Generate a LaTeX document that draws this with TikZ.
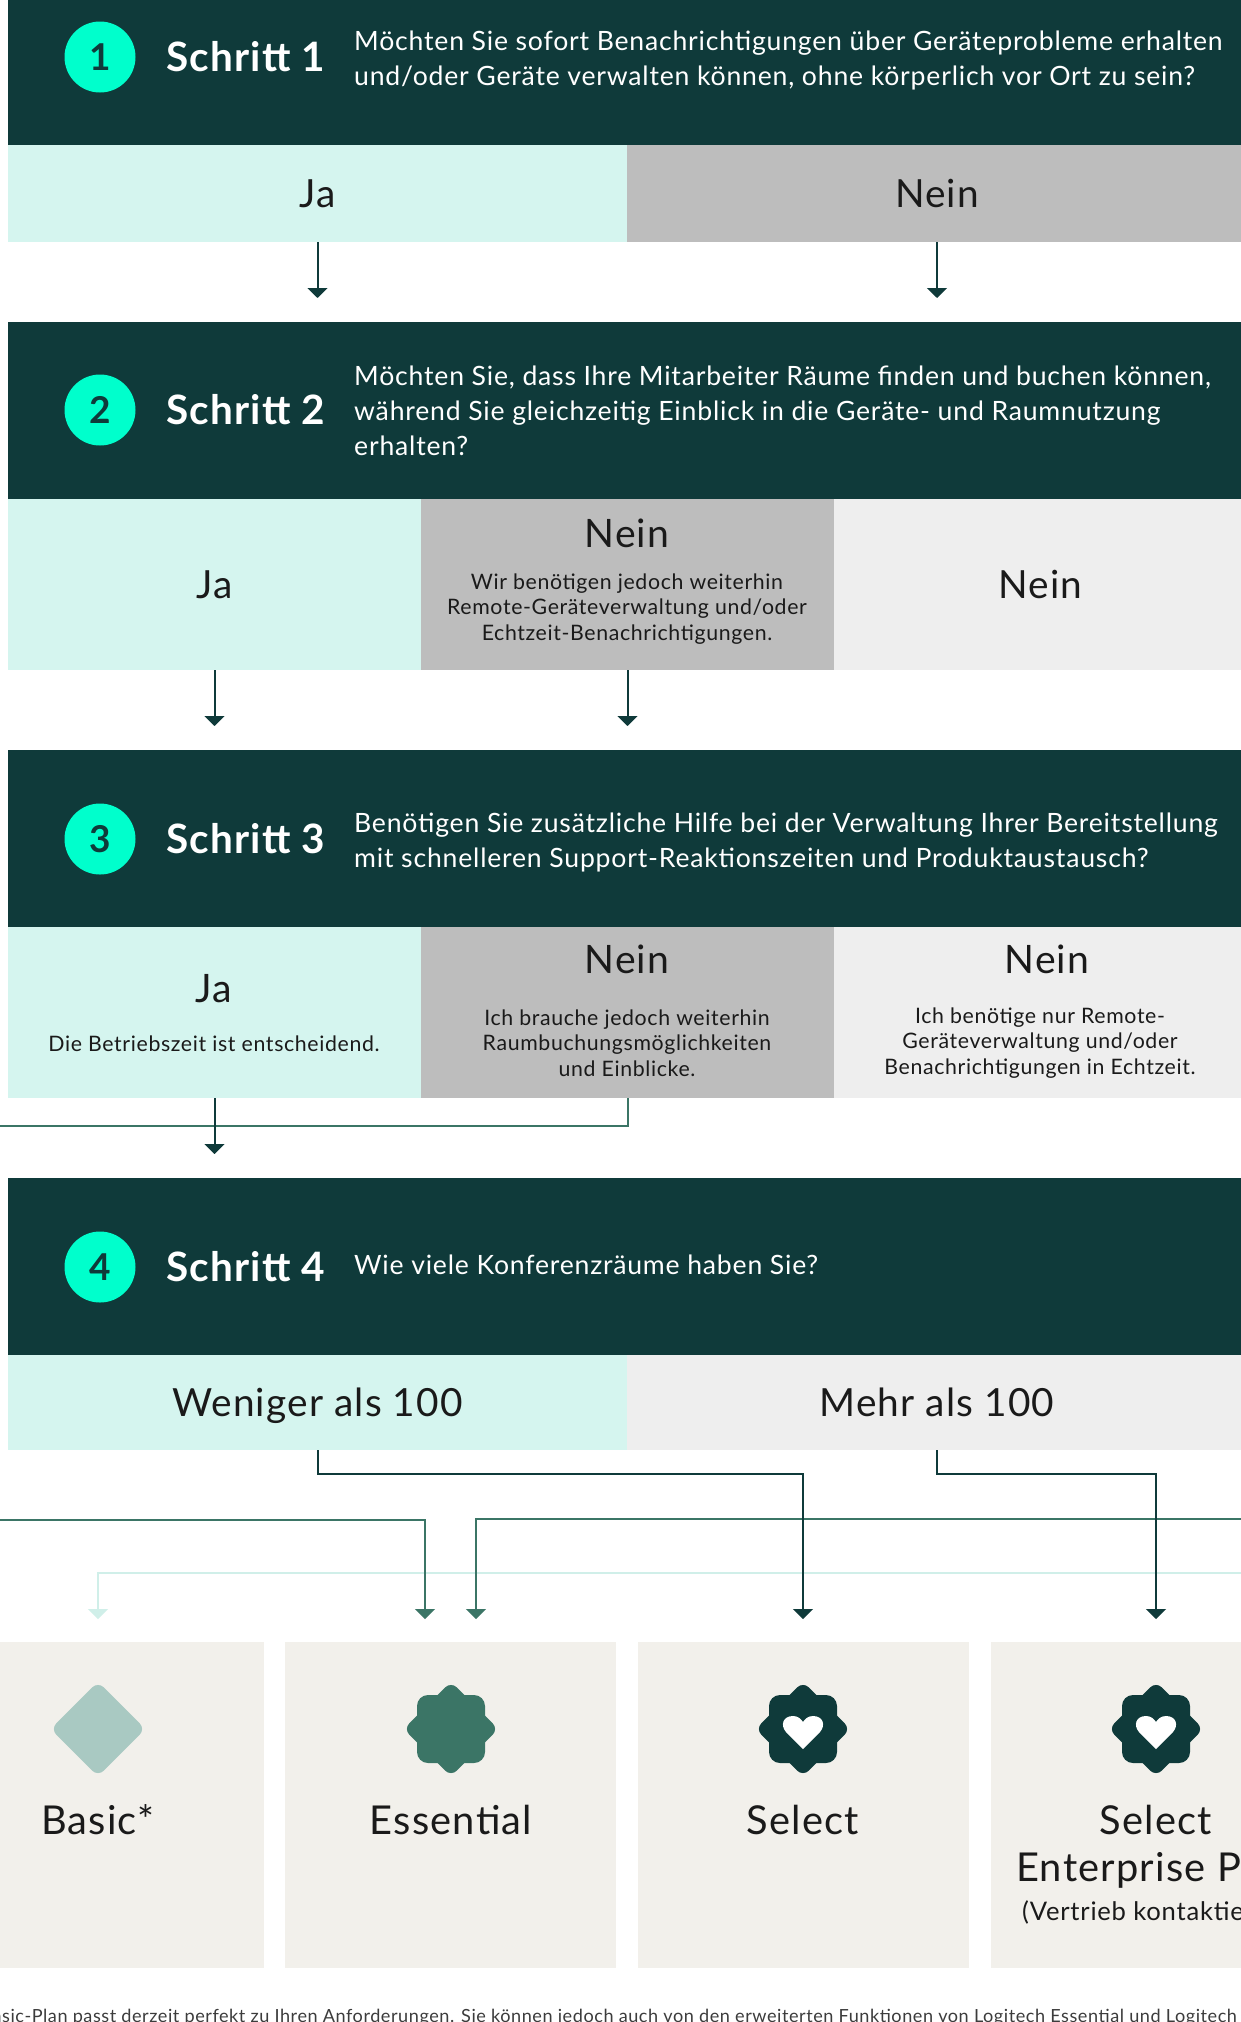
\documentclass[tikz,border=0pt]{standalone}
\usepackage{fontspec}
\setmainfont{Lato}[LetterSpace=3]
\usetikzlibrary{arrows.meta}
\definecolor{dark}{HTML}{0F3A3A}
\definecolor{mint}{HTML}{00FFCC}
\definecolor{pale}{HTML}{D5F5EF}
\definecolor{midgray}{HTML}{BDBDBD}
\definecolor{lightgray}{HTML}{EEEEEE}
\definecolor{card}{HTML}{F2F0EB}
\definecolor{green}{HTML}{3B7566}
\definecolor{sage}{HTML}{A9C9C2}
\definecolor{paleline}{HTML}{D0EFE9}
\definecolor{ink}{HTML}{1A1A1A}
\tikzset{
  cell/.style={anchor=north west,inner sep=0pt,outer sep=0pt,text=ink,text height=36pt,text depth=8pt,font=\fontsize{38.8}{44}\selectfont},
  head/.style={cell,fill=dark,minimum width=1239pt},
  num/.style={circle,fill=mint,minimum size=71pt,inner sep=0pt,text=dark,font=\fontsize{37}{44}\bfseries\selectfont},
  stepname/.style={anchor=west,inner sep=0pt,text=white,font=\fontsize{40.5}{46}\bfseries\selectfont},
  question/.style={anchor=west,inner sep=0pt,text=white,align=left,font=\fontsize{26.6}{35}\selectfont},
  bigt/.style={inner sep=0pt,text=ink,text height=36pt,text depth=8pt,font=\fontsize{39.2}{44}\selectfont},
  small/.style={inner sep=0pt,text=ink,align=center,font=\fontsize{21.3}{25.7}\selectfont},
  conn/.style={line width=2pt,draw=dark,-{Triangle[width=20pt,length=10pt]}},
  conng/.style={conn,draw=green},
  connp/.style={conn,draw=paleline},
  badge/.style={rectangle,minimum size=67pt,inner sep=0pt,rounded corners=8pt},
  badgeb/.style={rectangle,minimum size=68pt,inner sep=0pt,rounded corners=11pt},
  plan/.style={inner sep=0pt,text=ink,text height=36pt,text depth=8pt,font=\fontsize{39.8}{44}\selectfont},
}
\newcommand{\heartat}[1]{\fill[white,shift={(#1)}] (0,20) -- (-17,3) .. controls (-23,-4) and (-20,-13) .. (-10,-13) .. controls (-5,-13) and (-2,-10) .. (0,-7) .. controls (2,-10) and (5,-13) .. (10,-13) .. controls (20,-13) and (23,-4) .. (17,3) -- cycle;}
\begin{document}
\begin{tikzpicture}[x=1pt,y=-1pt]
\useasboundingbox (0,0) rectangle (1241,2022);
\clip (0,0) rectangle (1241,2022);
\fill[white] (0,0) rectangle (1241,2022);
% step 1
\node[head,minimum height=145pt] (h1) at (8,0) {};
\node[num] (n1) at (100,57) {1};
\node[stepname] (s1) at (166,57) {Schritt 1};
\node[question] (q1) at (354,60.5) {Möchten Sie sofort Benachrichtigungen über Geräteprobleme erhalten\\und/oder Geräte verwalten können, ohne körperlich vor Ort zu sein?};
\node[cell,fill=pale,minimum width=619pt,minimum height=97pt] (a1) at (8,145) {Ja};
\node[cell,fill=midgray,minimum width=620pt,minimum height=97pt] (a2) at (627,145) {Nein};
% step 2
\node[head,minimum height=177pt] (h2) at (8,322) {};
\node[num] (n2) at (100,410) {2};
\node[stepname] (s2) at (166,410) {Schritt 2};
\node[question] (q2) at (354,411) {Möchten Sie, dass Ihre Mitarbeiter Räume finden und buchen können,\\während Sie gleichzeitig Einblick in die Geräte- und Raumnutzung\\erhalten?};
\node[cell,fill=pale,minimum width=413pt,minimum height=171pt] (b1) at (8,499) {Ja};
\node[cell,fill=midgray,minimum width=413pt,minimum height=171pt] (b2) at (421,499) {};
\node[cell,fill=lightgray,minimum width=413pt,minimum height=171pt] (b3) at (834,499) {Nein};
\node[bigt] (b2t) at (627,533) {Nein};
\node[small] (b2s) at (627,609) {Wir benötigen jedoch weiterhin\\Remote-Geräteverwaltung und/oder\\Echtzeit-Benachrichtigungen.};
% step 3
\node[head,minimum height=177pt] (h3) at (8,750) {};
\node[num] (n3) at (100,839) {3};
\node[stepname] (s3) at (166,839) {Schritt 3};
\node[question] (q3) at (354,842) {Benötigen Sie zusätzliche Hilfe bei der Verwaltung Ihrer Bereitstellung\\mit schnelleren Support-Reaktionszeiten und Produktaustausch?};
\node[cell,fill=pale,minimum width=413pt,minimum height=171pt] (c1) at (8,927) {};
\node[cell,fill=midgray,minimum width=413pt,minimum height=171pt] (c2) at (421,927) {};
\node[cell,fill=lightgray,minimum width=413pt,minimum height=171pt] (c3) at (834,927) {};
\node[bigt] (c1t) at (214,988) {Ja};
\node[small] (c1s) at (214,1044) {Die Betriebszeit ist entscheidend.};
\node[bigt] (c2t) at (627,959) {Nein};
\node[small] (c2s) at (627,1043) {Ich brauche jedoch weiterhin\\Raumbuchungsmöglichkeiten\\und Einblicke.};
\node[bigt] (c3t) at (1047,959) {Nein};
\node[small] (c3s) at (1040,1043) {Ich benötige nur Remote-\\Geräteverwaltung und/oder\\Benachrichtigungen in Echtzeit.};
% step 4
\node[head,minimum height=177pt] (h4) at (8,1178) {};
\node[num] (n4) at (100,1267) {4};
\node[stepname] (s4) at (166,1267) {Schritt 4};
\node[question] (q4) at (354,1265) {Wie viele Konferenzräume haben Sie?};
\node[cell,fill=pale,minimum width=619pt,minimum height=95pt] (d1) at (8,1355) {Weniger als 100};
\node[cell,fill=lightgray,minimum width=620pt,minimum height=95pt] (d2) at (627,1355) {Mehr als 100};
% plan cards
\node[cell,fill=card,minimum width=331pt,minimum height=326pt] (p1) at (-67,1642) {};
\node[cell,fill=card,minimum width=331pt,minimum height=326pt] (p2) at (285,1642) {};
\node[cell,fill=card,minimum width=331pt,minimum height=326pt] (p3) at (638,1642) {};
\node[cell,fill=card,minimum width=330pt,minimum height=326pt] (p4) at (991,1642) {};
\node[badge,fill=sage,rotate=45] (i1) at (98,1729) {};
\node[badge,fill=green,rotate=45] (i2a) at (451,1729) {};
\node[badgeb,fill=green] (i2b) at (451,1729) {};
\node[badge,fill=dark,rotate=45] (i3a) at (803,1729) {};
\node[badgeb,fill=dark] (i3b) at (803,1729) {};
\node[badge,fill=dark,rotate=45] (i4a) at (1156,1729) {};
\node[badgeb,fill=dark] (i4b) at (1156,1729) {};
\heartat{803,1729}
\heartat{1156,1729}
\node[plan] (t1) at (98,1820) {Basic*};
\node[plan] (t2) at (451,1820) {Essential};
\node[plan] (t3) at (803,1820) {Select};
\node[plan] (t4) at (1156,1820) {Select};
\node[plan] (t5) at (1156,1867) {Enterprise Plan};
\node[inner sep=0pt,text=ink,font=\fontsize{25.6}{32}\selectfont] (t6) at (1156,1912) {(Vertrieb kontaktieren)};
\node[anchor=base east,inner sep=0pt,text=ink!85,font=\fontsize{18.1}{22}\selectfont] (foot) at (1237,2022.5) {Basic-Plan passt derzeit perfekt zu Ihren Anforderungen. Sie können jedoch auch von den erweiterten Funktionen von Logitech Essential und Logitech};
% connector ends
\coordinate (e1) at (317.5,298);
\coordinate (e2) at (937,298);
\coordinate (e3) at (214.5,726);
\coordinate (e4) at (627.5,726);
\coordinate (e5) at (214.5,1154);
\coordinate (g1) at (-10,1126);
\coordinate (f1) at (1250,1573);
\coordinate (f2) at (98,1573);
\coordinate (f3) at (98,1619);
\coordinate (f4) at (-10,1520);
\coordinate (f5) at (425,1520);
\coordinate (f6) at (425,1619);
\coordinate (f7) at (1250,1519);
\coordinate (f8) at (476,1519);
\coordinate (f9) at (476,1619);
\coordinate (k1) at (803,1474);
\coordinate (k2) at (803,1619);
\coordinate (k3) at (1156,1474);
\coordinate (k4) at (1156,1619);
% connectors
\draw[connp] (f1) -- (f2) -- (f3);
\draw[conng] (f4) -- (f5) -- (f6);
\draw[conng] (f7) -- (f8) -- (f9);
\draw[line width=2pt,draw=green] (c2.south) |- (g1);
\draw[conn] (a1.south) -- (e1);
\draw[conn] (a2.south) -- (e2);
\draw[conn] (b1.south) -- (e3);
\draw[conn] (b2.south) -- (e4);
\draw[conn] (c1.south) -- (e5);
\draw[conn] (d1.south) |- (k1) -- (k2);
\draw[conn] (d2.south) |- (k3) -- (k4);
\end{tikzpicture}
\end{document}
